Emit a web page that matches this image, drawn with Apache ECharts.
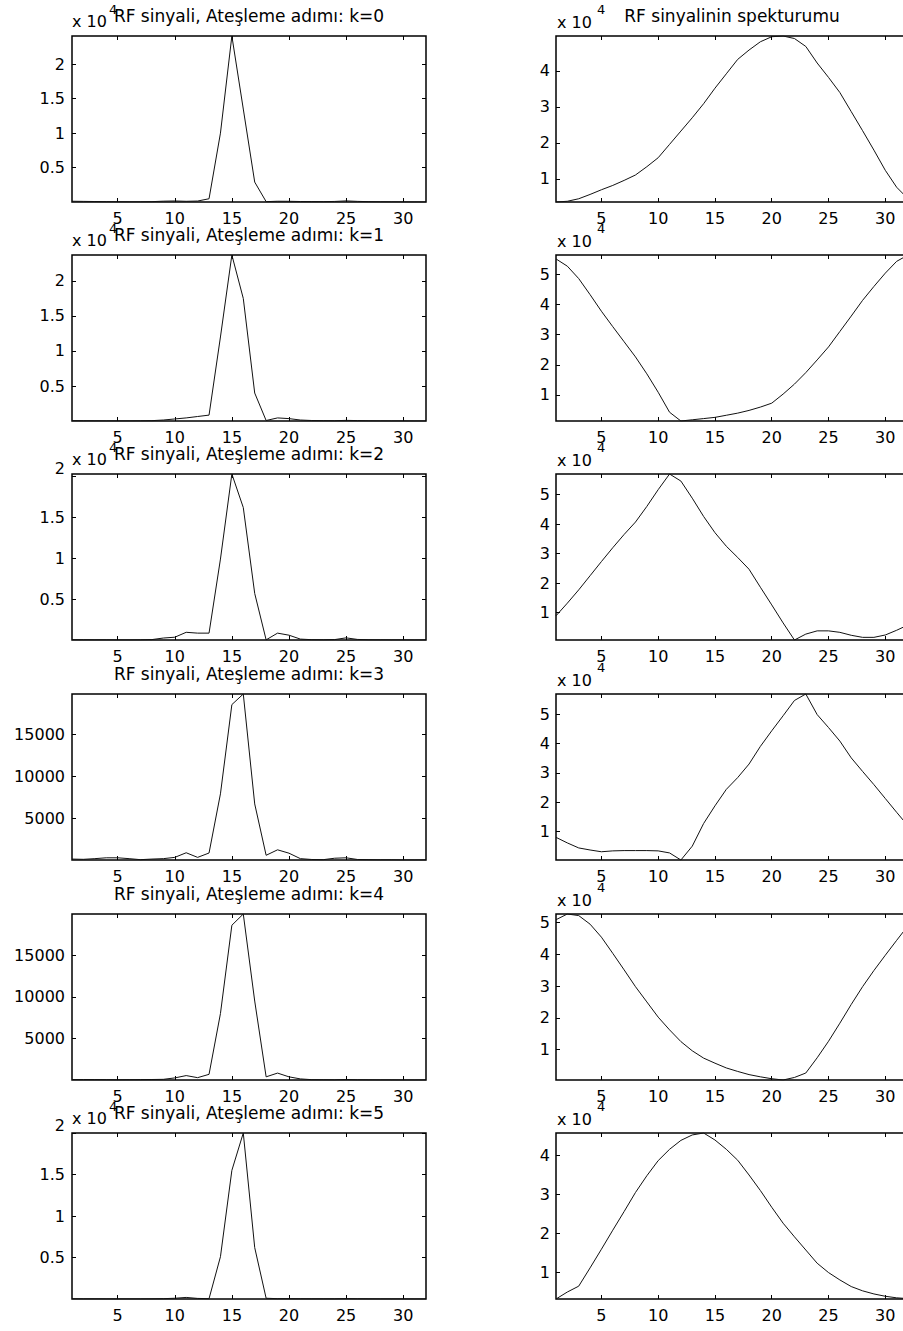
<!DOCTYPE html>
<html>
<head>
<meta charset="utf-8">
<title>RF sinyali ve spektrumu</title>
<script src="https://cdn.jsdelivr.net/npm/echarts@6/dist/echarts.min.js"></script>
<style>
  html, body { margin: 0; padding: 0; background: #ffffff; }
  #chart { width: 903px; height: 1331px; }
</style>
</head>
<body>
<div id="chart"></div>
<script>
// Sample index n = 1..32 of each 32-point record
const sampleIndex = [1, 2, 3, 4, 5, 6, 7, 8, 9, 10, 11, 12, 13, 14, 15, 16,
                     17, 18, 19, 20, 21, 22, 23, 24, 25, 26, 27, 28, 29, 30, 31, 32];

// RF signal magnitude for firing steps k = 0..5
const rfK0 = [120, 100, 80, 60, 50, 40, 40, 60, 130, 160, 110, 150, 480, 10000, 24100, 13500,
              2900, 60, 120, 110, 80, 70, 60, 90, 170, 100, 60, 40, 30, 20, 15, 10];
const rfK1 = [60, 50, 40, 30, 30, 30, 40, 60, 150, 300, 450, 650, 850, 12000, 23700, 17500,
              4000, 80, 450, 350, 150, 80, 60, 50, 100, 70, 40, 30, 20, 20, 10, 10];
const rfK2 = [50, 40, 30, 30, 20, 20, 30, 60, 250, 350, 950, 850, 850, 9900, 20300, 16200,
              5700, 30, 850, 600, 120, 50, 40, 60, 270, 80, 40, 30, 20, 20, 10, 20];
const rfK3 = [150, 120, 200, 300, 300, 200, 80, 150, 200, 350, 900, 350, 870, 7900, 18500, 19760,
              6700, 600, 1250, 850, 200, 100, 80, 250, 300, 100, 80, 60, 60, 40, 40, 50];
const rfK4 = [80, 80, 70, 60, 50, 60, 70, 80, 100, 270, 550, 300, 700, 8000, 18600, 19950,
              9500, 400, 850, 400, 150, 60, 50, 40, 80, 50, 40, 30, 30, 20, 20, 30];
const rfK5 = [40, 30, 30, 20, 20, 20, 20, 30, 50, 100, 200, 80, 50, 5100, 15500, 20000,
              6200, 100, 50, 50, 40, 30, 30, 30, 60, 40, 30, 20, 20, 20, 10, 10];

// Spectrum magnitude of the RF signal for k = 0..5
const specK0 = [3600, 3800, 4500, 5700, 7000, 8200, 9600, 11100, 13400, 15900, 19600, 23300,
                27000, 30900, 35200, 39200, 43200, 45800, 48100, 49500, 49700, 49000, 46800, 42200,
                38200, 34000, 28700, 23400, 18000, 12400, 7700, 4500];
const specK1 = [55000, 52600, 48500, 43200, 37700, 32600, 27600, 22600, 17000, 10900, 4300, 1400,
                1800, 2200, 2600, 3300, 4000, 4900, 6000, 7300, 10300, 13600, 17400, 21600,
                25900, 31000, 36100, 41300, 45900, 50300, 54200, 56300];
const specK2 = [8900, 13200, 17700, 22500, 27300, 32000, 36500, 40700, 46000, 51700, 57000, 54600,
                48800, 42600, 37100, 32500, 28700, 24700, 18600, 12600, 6500, 700, 2700, 3800,
                3800, 3300, 2300, 1600, 1600, 2400, 4000, 5800];
const specK3 = [8100, 6200, 4500, 3800, 3200, 3500, 3600, 3600, 3600, 3500, 2800, 400,
                5100, 12800, 18800, 24400, 28400, 33000, 39000, 44300, 49400, 54600, 56800, 49800,
                45400, 40800, 35100, 30500, 26000, 21300, 16600, 12000];
const specK4 = [50900, 52700, 52200, 49500, 45400, 40300, 35100, 29800, 25000, 20200, 16200, 12500,
                9600, 7300, 5700, 4200, 3100, 2100, 1400, 800, 400, 1200, 2600, 7400,
                12600, 18300, 24200, 29800, 34900, 39700, 44400, 49000];
const specK5 = [3100, 4900, 6400, 11100, 15900, 20800, 25600, 30500, 34800, 38700, 41600, 43900,
                45300, 45800, 44000, 41600, 38800, 35000, 31000, 26700, 22600, 19100, 15700, 12300,
                9900, 8000, 6300, 5200, 4400, 3800, 3400, 3200];

// Tick values and their printed labels
const xTicks = [5, 10, 15, 20, 25, 30];
const sciTicks = [5000, 10000, 15000, 20000];
const sciTickLabels = ['0.5', '1', '1.5', '2'];
const plainTicks = [5000, 10000, 15000];
const plainTickLabels = ['5000', '10000', '15000'];
const specTicks4 = [10000, 20000, 30000, 40000];
const specTickLabels4 = ['1', '2', '3', '4'];
const specTicks5 = [10000, 20000, 30000, 40000, 50000];
const specTickLabels5 = ['1', '2', '3', '4', '5'];

const rfTitles = [
  'RF sinyali, Ateşleme adımı: k=0',
  'RF sinyali, Ateşleme adımı: k=1',
  'RF sinyali, Ateşleme adımı: k=2',
  'RF sinyali, Ateşleme adımı: k=3',
  'RF sinyali, Ateşleme adımı: k=4',
  'RF sinyali, Ateşleme adımı: k=5'
];
const specTitle = 'RF sinyalinin spekturumu';
const expBase = 'x 10';
const expPower = '4';

// ---- layout ----
const FONT = 'DejaVu Sans';
const colLeft = [72, 556];
const colWidth = [354, 352];
const rowTop = [36, 255, 474, 694, 914, 1133];
const boxHeight = 166;

const rfSignals = [rfK0, rfK1, rfK2, rfK3, rfK4, rfK5];
const spectra = [specK0, specK1, specK2, specK3, specK4, specK5];

const panels = [];
for (let r = 0; r < 6; r++) {
  const plain = (r === 3 || r === 4);
  panels.push({
    col: 0, row: r, values: rfSignals[r],
    ticks: plain ? plainTicks : sciTicks,
    labels: plain ? plainTickLabels : sciTickLabels,
    exponent: !plain,
    title: rfTitles[r],
    topLabelAbove: (r === 2 || r === 5)
  });
  const five = (r >= 1 && r <= 4);
  panels.push({
    col: 1, row: r, values: spectra[r],
    ticks: five ? specTicks5 : specTicks4,
    labels: five ? specTickLabels5 : specTickLabels4,
    exponent: true,
    title: r === 0 ? specTitle : null,
    topLabelAbove: false
  });
}

const grids = [], xAxes = [], yAxes = [], series = [], graphics = [];

panels.forEach((p, i) => {
  const left = colLeft[p.col], top = rowTop[p.row], width = colWidth[p.col];
  grids.push({
    left: left, top: top, width: width, height: boxHeight,
    show: true, borderColor: '#000', borderWidth: 1.5,
    backgroundColor: 'transparent', containLabel: false, outerBoundsMode: 'none'
  });

  const yMin = Math.min.apply(null, p.values);
  const yMax = Math.max.apply(null, p.values);
  const tickStyle = { show: true, inside: true, length: 4, lineStyle: { color: '#000', width: 1 } };
  const labelOf = (v) => {
    const k = p.ticks.indexOf(v);
    return k >= 0 ? p.labels[k] : '';
  };

  // bottom / top x axes
  xAxes.push({
    type: 'value', gridIndex: i, position: 'bottom', min: 1, max: 32,
    axisLine: { show: false, onZero: false },
    axisTick: Object.assign({ customValues: xTicks }, tickStyle),
    axisLabel: { customValues: xTicks, margin: 8, color: '#000', fontFamily: FONT, fontSize: 16 },
    splitLine: { show: false }
  });
  xAxes.push({
    type: 'value', gridIndex: i, position: 'top', min: 1, max: 32,
    axisLine: { show: false, onZero: false },
    axisTick: Object.assign({ customValues: xTicks }, tickStyle),
    axisLabel: { show: false },
    splitLine: { show: false }
  });

  // left / right y axes
  const yLabel = {
    customValues: p.ticks, margin: p.col === 0 ? 7 : 6, color: '#000',
    fontFamily: FONT, fontSize: 16, formatter: labelOf
  };
  if (p.topLabelAbove) yLabel.verticalAlignMaxLabel = 'bottom';
  yAxes.push({
    type: 'value', gridIndex: i, position: 'left', min: yMin, max: yMax,
    axisLine: { show: false, onZero: false },
    axisTick: Object.assign({ customValues: p.ticks }, tickStyle),
    axisLabel: yLabel,
    splitLine: { show: false }
  });
  yAxes.push({
    type: 'value', gridIndex: i, position: 'right', min: yMin, max: yMax,
    axisLine: { show: false, onZero: false },
    axisTick: Object.assign({ customValues: p.ticks }, tickStyle),
    axisLabel: { show: false },
    splitLine: { show: false }
  });

  series.push({
    type: 'line', xAxisIndex: 2 * i, yAxisIndex: 2 * i,
    data: sampleIndex.map((n, k) => [n, p.values[k]]),
    showSymbol: false, silent: true,
    lineStyle: { color: '#111', width: 1 },
    clip: true
  });

  // "x 10^4" multiplier above the y axis
  if (p.exponent) {
    const baseX = p.col === 0 ? 72 : 557;
    const baseDy = p.col === 0 ? 15 : 13.5;
    const powX = p.col === 0 ? 109 : 597;
    graphics.push({
      type: 'text', x: baseX, y: top - baseDy, z: 10,
      style: { text: expBase, fill: '#000', font: '16px "' + FONT + '"', align: 'left', verticalAlign: 'middle' }
    });
    graphics.push({
      type: 'text', x: powX, y: top - 27, z: 10,
      style: { text: expPower, fill: '#000', font: '13px "' + FONT + '"', align: 'left', verticalAlign: 'middle' }
    });
  }
  // panel title
  if (p.title) {
    graphics.push({
      type: 'text', x: left + width / 2, y: top - 20.5, z: 11,
      style: { text: p.title, fill: '#000', font: '17px "' + FONT + '"', align: 'center', verticalAlign: 'middle' }
    });
  }
});

const chart = echarts.init(document.getElementById('chart'), null, { renderer: 'svg', width: 903, height: 1331 });
chart.setOption({
  animation: false,
  backgroundColor: '#ffffff',
  grid: grids,
  xAxis: xAxes,
  yAxis: yAxes,
  series: series,
  graphic: graphics
});
</script>
</body>
</html>
